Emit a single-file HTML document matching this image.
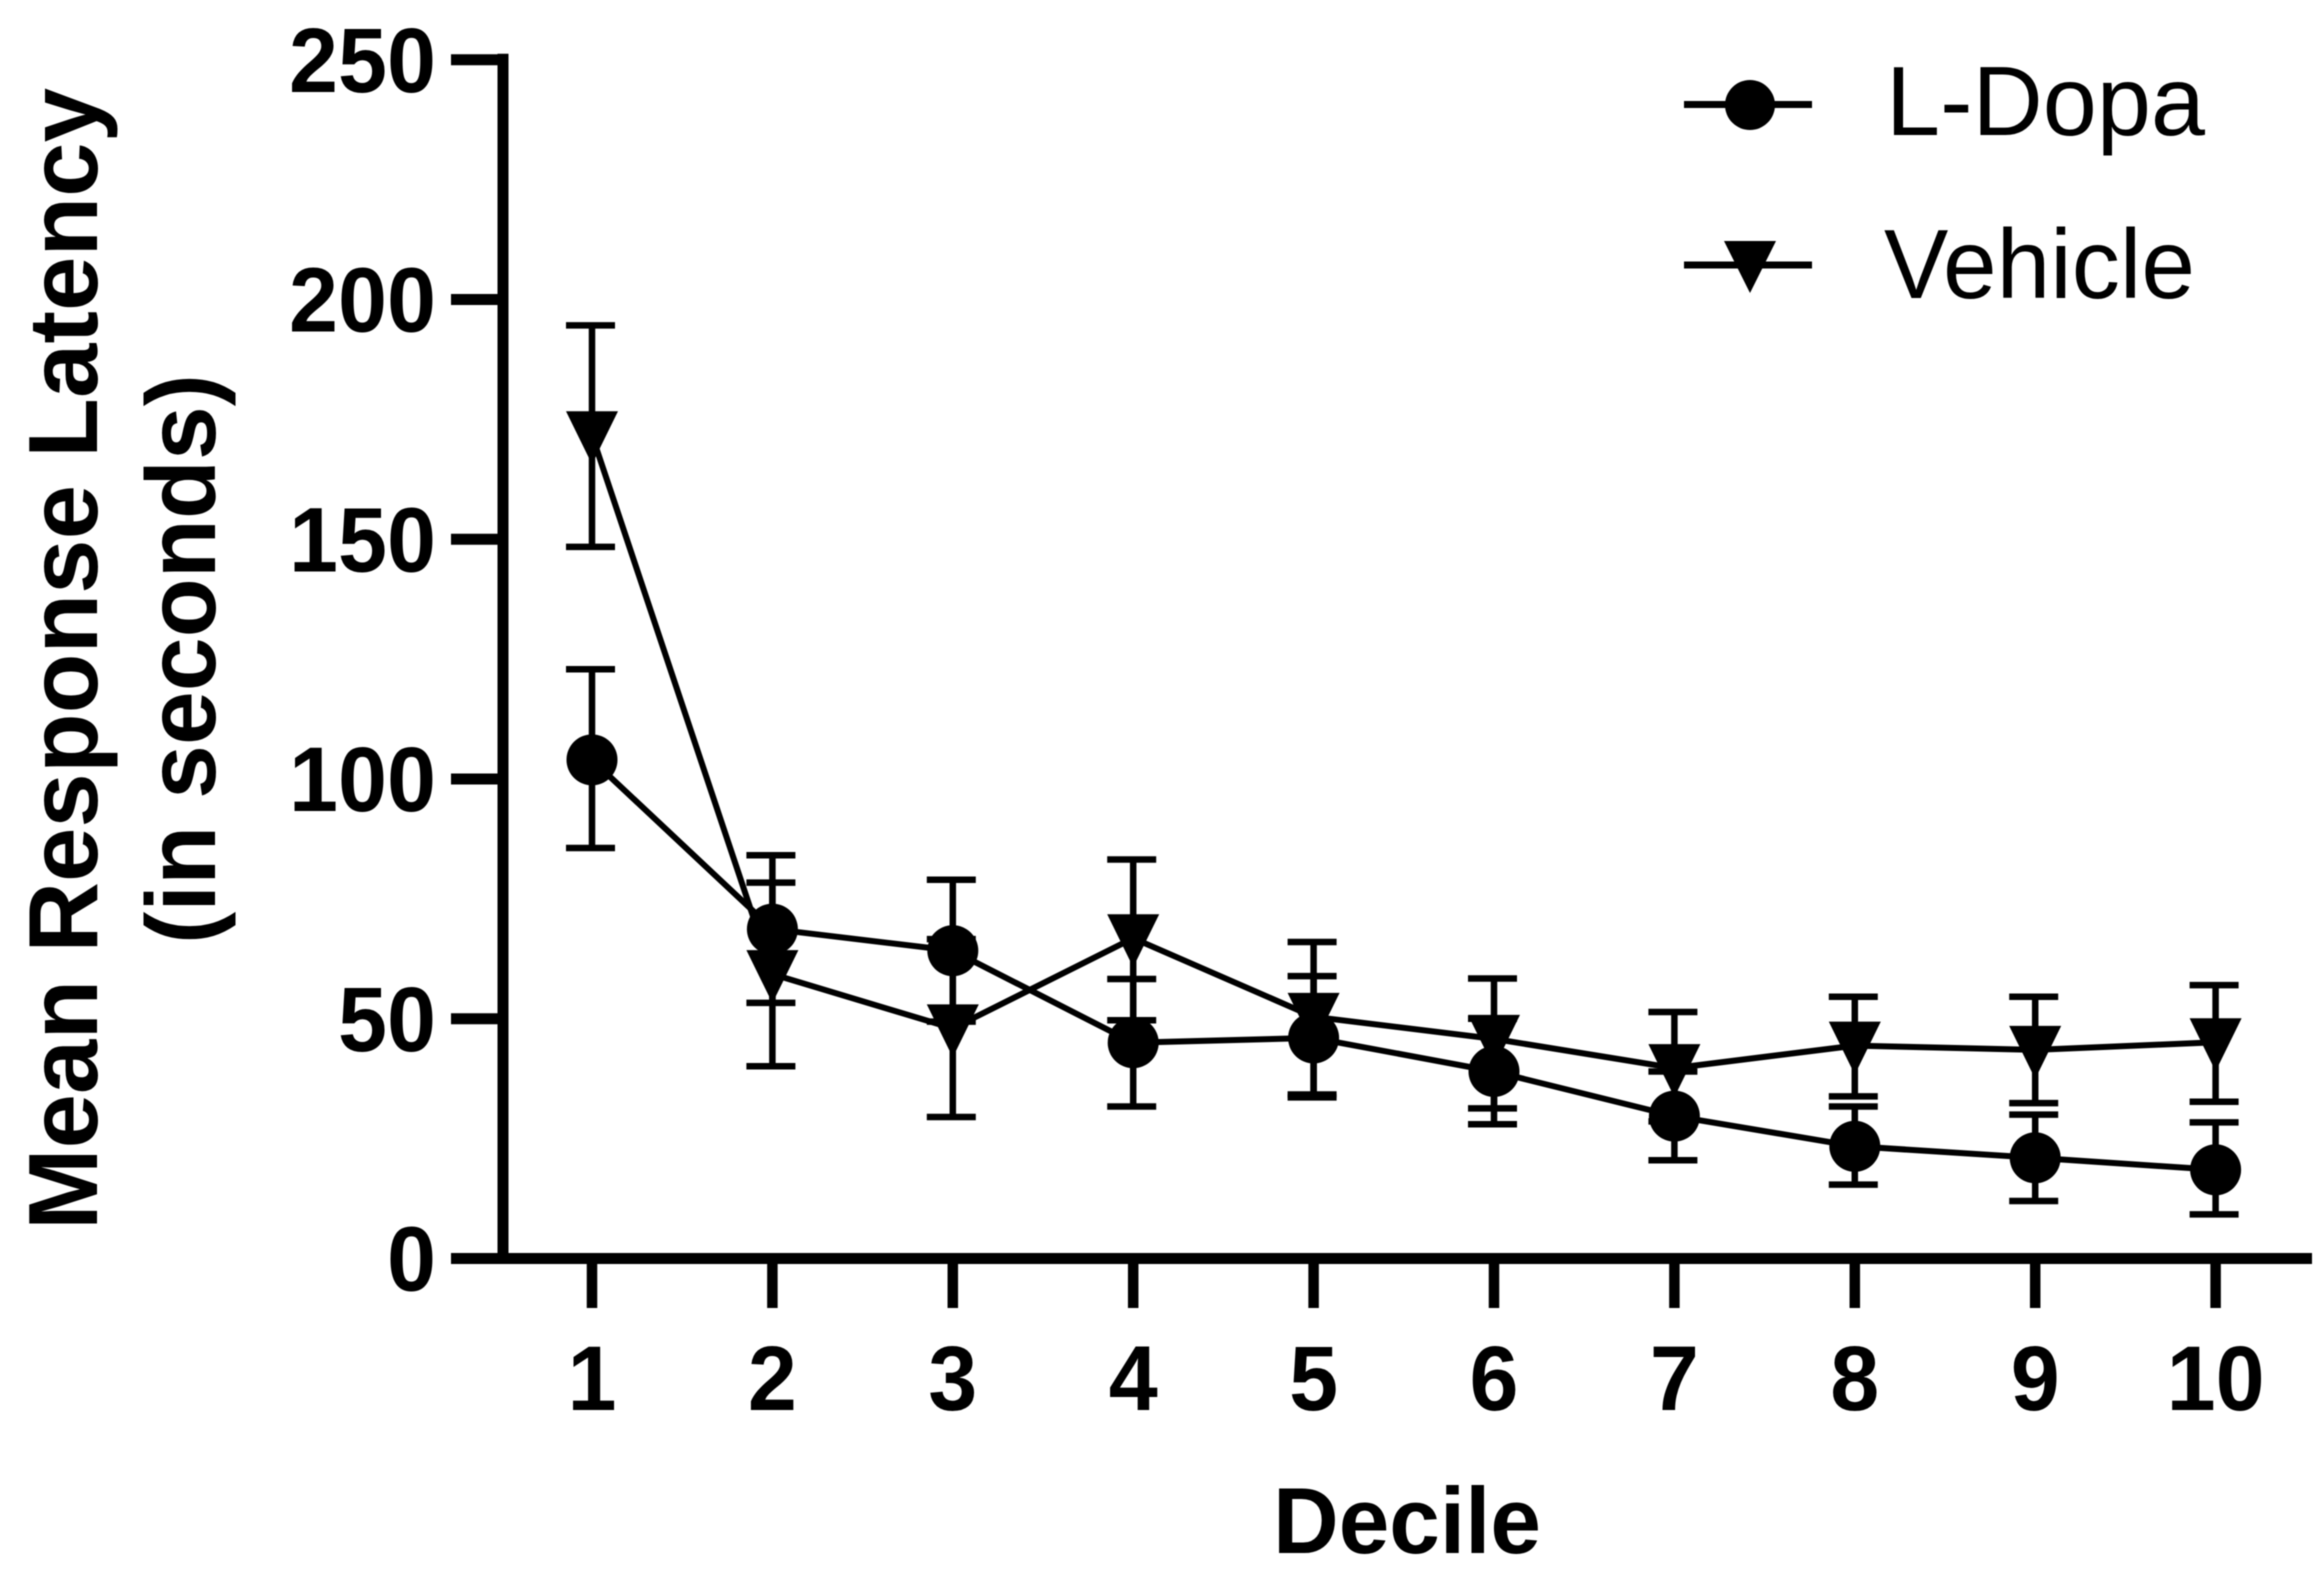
<!DOCTYPE html>
<html lang="en">
<head>
<meta charset="utf-8">
<title>Mean Response Latency by Decile</title>
<style>
html,body{margin:0;padding:0;background:#fff;width:2324px;height:1574px;overflow:hidden}
svg{display:block;filter:blur(0.6px)}
text{font-family:"Liberation Sans",Arial,sans-serif;fill:#000}
.b{font-weight:700}
</style>
</head>
<body>
<svg id="chart" xmlns="http://www.w3.org/2000/svg" width="2324" height="1574" viewBox="0 0 2324 1574">
<rect x="0" y="0" width="2324" height="1574" fill="#fff"/>
<text class="b" font-size="98" text-anchor="middle" transform="translate(97,659) rotate(-90)" textLength="1142" lengthAdjust="spacingAndGlyphs">Mean Response Latency</text>
<text class="b" font-size="98" text-anchor="middle" transform="translate(215,659) rotate(-90)" textLength="570" lengthAdjust="spacingAndGlyphs">(in seconds)</text>
<text class="b" font-size="94" text-anchor="middle" x="1407" y="1553" textLength="268" lengthAdjust="spacingAndGlyphs">Decile</text>
<g id="axes"></g>
<g id="series"></g>
<g>
<g>
<line x1="1684" x2="1812" y1="104.5" y2="104.5" stroke="#000" stroke-width="7"/>
<circle cx="1750" cy="105" r="25" fill="#000"/>
<text font-size="98" x="1886" y="135" textLength="319" lengthAdjust="spacingAndGlyphs">L-Dopa</text>
</g>
<g>
<line x1="1684" x2="1812" y1="265" y2="265" stroke="#000" stroke-width="7"/>
<polygon points="1724,241 1776,241 1750,293" fill="#000"/>
<text font-size="98" x="1884" y="298" textLength="311" lengthAdjust="spacingAndGlyphs">Vehicle</text>
</g>
</g>
</svg>
<script>
const deciles = ["1","2","3","4","5","6","7","8","9","10"];
const yTicks = [0,50,100,150,200,250];
const lDopa = [104,68.7,64.2,45,46,39,29.7,23.4,21,18.5];
const lDopaUpper = [122.9,84.1,79,58.3,58.9,50,39,31.7,30,28.4];
const lDopaLower = [85.6,53.3,49.4,31.7,33.6,28,20.5,15.4,12,9.2];
const vehicle = [171.7,59.3,48,66.8,50.4,45.8,39.7,44.4,43.5,45.1];
const vehicleUpper = [194.6,78.4,66.6,83.2,66,58.4,51.4,54.6,54.6,57];
const vehicleLower = [148.4,40.1,29.5,49.7,34.2,31.3,28.6,33.8,32.4,32.7];

const NS = "http://www.w3.org/2000/svg";
const xScale = i => 592 + i * 180.4;
const yScale = v => 1258.5 - v * 4.795;
const axes = document.getElementById("axes");
const seriesRoot = document.getElementById("series");
function mk(tag, parent, attrs) {
  const e = document.createElementNS(NS, tag);
  for (const k in attrs) e.setAttribute(k, attrs[k]);
  parent.appendChild(e);
  return e;
}

const yAxisLine = mk("line", axes, {x1:503, x2:503, y1:yScale(250)-6, y2:yScale(0)+5.5, stroke:"#000", "stroke-width":11});


const xAxisLine = mk("line", axes, {x1:451, x2:2312, y1:yScale(0), y2:yScale(0), stroke:"#000", "stroke-width":11});



yTicks.forEach(v => {
  const t = mk("line", axes, {x1:451, x2:503, y1:yScale(v), y2:yScale(v), stroke:"#000", "stroke-width":11});
  
  
  const s = String(v);
  const l = mk("text", axes, {x:436, y:yScale(v) + 32, "font-size":92, "text-anchor":"end", class:"b", textLength:s.length * 49, lengthAdjust:"spacingAndGlyphs"});
  
  
  l.textContent = s;
});

deciles.forEach((d, i) => {
  const t = mk("line", axes, {x1:xScale(i), x2:xScale(i), y1:yScale(0), y2:1308, stroke:"#000", "stroke-width":10.5});
  
  
  const l = mk("text", axes, {x:xScale(i), y:1410, "font-size":92, "text-anchor":"middle", class:"b", textLength:d.length * 49, lengthAdjust:"spacingAndGlyphs"});
  
  
  l.textContent = d;
});

function errorBars(group, upper, lower) {
  upper.forEach((u, i) => {
    const x = xScale(i);
    const stem = mk("line", group, {x1:x, x2:x, y1:yScale(u), y2:yScale(lower[i]), stroke:"#000", "stroke-width":6.5});
    
    
    const capTop = mk("line", group, {x1:x-26, x2:x+23, y1:yScale(u), y2:yScale(u), stroke:"#000", "stroke-width":6.5});
    
    
    const capBot = mk("line", group, {x1:x-26, x2:x+23, y1:yScale(lower[i]), y2:yScale(lower[i]), stroke:"#000", "stroke-width":6.5});
    
    
  });
}
function seriesLine(group, values) {
  return mk("polyline", group, {points:values.map((v, i) => xScale(i) + "," + yScale(v)).join(" "), fill:"none", stroke:"#000", "stroke-width":6, "stroke-linejoin":"round"});
}

const gL = mk("g", seriesRoot, {});


errorBars(gL, lDopaUpper, lDopaLower);
const lineL = seriesLine(gL, lDopa);


lDopa.forEach((v, i) => {
  const c = mk("circle", gL, {cx:xScale(i), cy:yScale(v), r:25.5, fill:"#000"});
  
  
});

const gV = mk("g", seriesRoot, {});


errorBars(gV, vehicleUpper, vehicleLower);
const lineV = seriesLine(gV, vehicle);


vehicle.forEach((v, i) => {
  const x = xScale(i), y = yScale(v);
  const p = mk("polygon", gV, {points:(x-26)+","+(y-24)+" "+(x+26)+","+(y-24)+" "+x+","+(y+29), fill:"#000"});
  
  
});
</script>
</body>
</html>
